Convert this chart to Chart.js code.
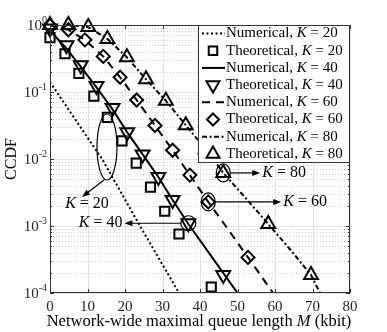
<!DOCTYPE html>
<html>
<head>
<meta charset="utf-8">
<script src="https://cdn.jsdelivr.net/npm/chart.js@4.4.0/dist/chart.umd.min.js"></script>
<style>
html,body{margin:0;padding:0;background:#fff;}
</style>
</head>
<body>
<canvas id="grafico" width="387" height="332"></canvas>
<script>
//Ejes
const ticksX = [0, 10, 20, 30, 40, 50, 60, 70, 80]
const ticksY = [1, 1e-1, 1e-2, 1e-3, 1e-4]
const exponentesY = ['0', '-1', '-2', '-3', '-4']
const valoresK = [20, 40, 60, 80]

//Numerico (lineas)
const numX20 = [0, 7, 13.9, 24, 34.4]
const numY20 = [0.141, 0.037, 0.01, 0.001, 0.0001]
const numX40 = [0, 4, 8.2, 12.4, 16.6, 20.6, 24.7, 28.9, 32.7, 36.9, 43, 50]
const numY40 = [0.83, 0.47, 0.24, 0.117, 0.056, 0.025, 0.0117, 0.0054, 0.00245, 0.00107, 0.000355, 0.0001]
const numX60 = [0, 4.9, 9.3, 14.2, 18.7, 23.1, 28, 32.7, 37.3, 42.2, 47.5, 52.8, 59.5]
const numY60 = [0.98, 0.85, 0.6, 0.34, 0.166, 0.076, 0.0316, 0.0135, 0.00575, 0.00229, 0.00089, 0.00034, 0.0001]
const numX80 = [0, 4.9, 10.2, 15.3, 20.5, 25.6, 30.9, 36.2, 41.5, 46.2, 52.2, 58.2, 64, 69.6, 72]
const numY80 = [1, 1, 0.93, 0.62, 0.33, 0.155, 0.074, 0.032, 0.014, 0.0062, 0.0026, 0.00107, 0.00045, 0.000186, 0.0001]

//Teorico (marcadores)
const teoX20 = [0, 4, 7.7, 11.7, 15.3, 19.2, 23, 26.8, 30.6, 34.4, 43]
const teoY20 = [0.646, 0.372, 0.19, 0.087, 0.0417, 0.0186, 0.0087, 0.0038, 0.00166, 0.00076, 0.000123]
const teoX40 = [0, 4.4, 8.2, 12.4, 16.7, 20.6, 24.7, 28.9, 32.7, 36.9, 46.2]
const teoY40 = [0.89, 0.5, 0.25, 0.123, 0.0575, 0.025, 0.0117, 0.0054, 0.00245, 0.0011, 0.000186]
const teoX60 = [0, 4.9, 9.3, 14.2, 18.7, 23.1, 28, 32.7, 37.3, 42.2, 52.8]
const teoY60 = [0.98, 0.85, 0.6, 0.34, 0.166, 0.076, 0.0316, 0.0135, 0.00575, 0.00229, 0.00034]
const teoX80 = [0, 4.9, 10.2, 15.3, 20.5, 25.6, 30.9, 36.2, 41.5, 46.2, 58.2, 69.6]
const teoY80 = [1, 1, 0.93, 0.62, 0.33, 0.155, 0.074, 0.032, 0.014, 0.0062, 0.00107, 0.000186]

const serif = '"Liberation Serif", "DejaVu Serif", serif'

function puntos(xs, ys){
    return xs.map((x, i) => ({x: x, y: ys[i]}))
}

function linea(label, xs, ys, dash){
    return {label: label, data: puntos(xs, ys), showLine: true, borderColor: '#000',
        borderWidth: 2, borderDash: dash, pointRadius: 0, fill: false}
}

function marcador(label, xs, ys, estilo, radio, rot){
    return {label: label, data: puntos(xs, ys), showLine: false, pointStyle: estilo,
        pointRadius: radio, pointRotation: rot, pointBorderColor: '#000', pointBorderWidth: 2,
        pointBackgroundColor: 'rgba(0,0,0,0)', clip: false}
}

const estilos = [
    {dash: [2, 2.5], punto: 'rect', radio: 6.5, rot: 0},
    {dash: [], punto: 'triangle', radio: 8, rot: 180},
    {dash: [8, 6], punto: 'rectRot', radio: 6.5, rot: 0},
    {dash: [5, 2.5, 2, 2.5], punto: 'triangle', radio: 8, rot: 0}
]

const datasets = [
    linea('Numerical, K = 20', numX20, numY20, estilos[0].dash),
    marcador('Theoretical, K = 20', teoX20, teoY20, 'rect', 6.5, 0),
    linea('Numerical, K = 40', numX40, numY40, estilos[1].dash),
    marcador('Theoretical, K = 40', teoX40, teoY40, 'triangle', 8, 180),
    linea('Numerical, K = 60', numX60, numY60, estilos[2].dash),
    marcador('Theoretical, K = 60', teoX60, teoY60, 'rectRot', 6.5, 0),
    linea('Numerical, K = 80', numX80, numY80, estilos[3].dash),
    marcador('Theoretical, K = 80', teoX80, teoY80, 'triangle', 8, 0)
]

//Anotaciones (posicion en datos)
const anotaciones = [
    {k: 20, x: 15.2, y: 0.0151, rx: 10, ry: 33},
    {k: 40, x: 36.9, y: 0.0011, rx: 7.5, ry: 7.5},
    {k: 60, x: 42.2, y: 0.00229, rx: 7, ry: 9},
    {k: 80, x: 46.2, y: 0.0062, rx: 7, ry: 9}
]

// texto con K en cursiva
function textoMixto(ctx, partes, x, y, size, align){
    let ancho = 0
    partes.forEach(p => {
        ctx.font = (p.it ? 'italic ' : '') + size + 'px ' + serif
        ancho += ctx.measureText(p.t).width
    })
    let px = align === 'right' ? x - ancho : (align === 'center' ? x - ancho / 2 : x)
    ctx.textAlign = 'left'
    ctx.textBaseline = 'middle'
    partes.forEach(p => {
        ctx.font = (p.it ? 'italic ' : '') + size + 'px ' + serif
        ctx.fillText(p.t, px, y)
        px += ctx.measureText(p.t).width
    })
}

function flecha(ctx, x1, y1, x2, y2){
    const ang = Math.atan2(y2 - y1, x2 - x1)
    ctx.beginPath()
    ctx.moveTo(x1, y1)
    ctx.lineTo(x2 - 6 * Math.cos(ang), y2 - 6 * Math.sin(ang))
    ctx.stroke()
    ctx.beginPath()
    ctx.moveTo(x2, y2)
    ctx.lineTo(x2 - 8 * Math.cos(ang) + 3 * Math.sin(ang), y2 - 8 * Math.sin(ang) - 3 * Math.cos(ang))
    ctx.lineTo(x2 - 8 * Math.cos(ang) - 3 * Math.sin(ang), y2 - 8 * Math.sin(ang) + 3 * Math.cos(ang))
    ctx.closePath()
    ctx.fill()
}

const fondo = {
    id: 'fondo',
    beforeDatasetsDraw(chart){
        const ctx = chart.ctx
        const a = chart.chartArea
        const sx = chart.scales.x, sy = chart.scales.y
        ctx.save()
        // rejilla menor (punteada)
        ctx.strokeStyle = '#cfcfcf'
        ctx.lineWidth = 1
        ctx.setLineDash([1, 2])
        for(let d = -4; d < 0; d++){
            for(let m = 2; m <= 9; m++){
                const y = Math.round(sy.getPixelForValue(m * Math.pow(10, d))) + 0.5
                ctx.beginPath(); ctx.moveTo(a.left, y); ctx.lineTo(a.right, y); ctx.stroke()
            }
        }
        // rejilla mayor
        ctx.setLineDash([])
        ctx.strokeStyle = '#e3e3e3'
        ticksX.forEach(v => {
            const x = Math.round(sx.getPixelForValue(v)) + 0.5
            ctx.beginPath(); ctx.moveTo(x, a.top); ctx.lineTo(x, a.bottom); ctx.stroke()
        })
        ticksY.forEach(v => {
            const y = Math.round(sy.getPixelForValue(v)) + 0.5
            ctx.beginPath(); ctx.moveTo(a.left, y); ctx.lineTo(a.right, y); ctx.stroke()
        })
        ctx.restore()
    },
    afterDraw(chart){
        const ctx = chart.ctx
        const a = chart.chartArea
        const sx = chart.scales.x, sy = chart.scales.y
        ctx.save()
        // marco y marcas
        ctx.strokeStyle = '#333'
        ctx.lineWidth = 1
        ctx.strokeRect(a.left + 0.5, a.top + 0.5, a.right - a.left - 1, a.bottom - a.top - 1)
        ticksX.forEach(v => {
            const x = Math.round(sx.getPixelForValue(v)) + 0.5
            ctx.beginPath(); ctx.moveTo(x, a.bottom); ctx.lineTo(x, a.bottom - 4)
            ctx.moveTo(x, a.top); ctx.lineTo(x, a.top + 4); ctx.stroke()
        })
        for(let d = -4; d <= 0; d++){
            for(let m = 1; m <= (d === 0 ? 1 : 9); m++){
                const y = Math.round(sy.getPixelForValue(m * Math.pow(10, d))) + 0.5
                const l = m === 1 ? 4 : 2
                ctx.beginPath(); ctx.moveTo(a.left, y); ctx.lineTo(a.left + l, y)
                ctx.moveTo(a.right, y); ctx.lineTo(a.right - l, y); ctx.stroke()
            }
        }
        // etiquetas eje y con exponente
        ctx.fillStyle = '#262626'
        ticksY.forEach((v, i) => {
            const y = sy.getPixelForValue(v)
            ctx.font = '10px ' + serif
            const we = ctx.measureText(exponentesY[i]).width
            ctx.textAlign = 'left'
            ctx.textBaseline = 'middle'
            ctx.fillText(exponentesY[i], a.left - 3 - we, y - 5)
            ctx.font = '15px ' + serif
            ctx.textAlign = 'right'
            ctx.fillText('10', a.left - 3 - we, y + 1)
        })
        // titulos de ejes
        ctx.fillStyle = '#000'
        textoMixto(ctx, [{t: 'Network-wide maximal queue length '}, {t: 'M', it: true}, {t: ' (kbit)'}],
            (a.left + a.right) / 2 - 1, 322, 16.5, 'center')
        ctx.save()
        ctx.translate(12, (a.top + a.bottom) / 2)
        ctx.rotate(-Math.PI / 2)
        textoMixto(ctx, [{t: 'CCDF'}], 0, 0, 16, 'center')
        ctx.restore()

        // anotaciones
        ctx.strokeStyle = '#000'
        ctx.fillStyle = '#000'
        ctx.lineWidth = 1.2
        anotaciones.forEach(an => {
            const cx = sx.getPixelForValue(an.x), cy = sy.getPixelForValue(an.y)
            ctx.beginPath()
            ctx.ellipse(cx, cy, an.rx, an.ry, 0, 0, Math.PI * 2)
            ctx.stroke()
            const partes = [{t: 'K', it: true}, {t: ' = ' + an.k}]
            if(an.k === 20){
                flecha(ctx, cx - 3, cy + an.ry, cx - 25, cy + 50)
                textoMixto(ctx, partes, cx - 20, cy + 57, 16, 'center')
            } else if(an.k === 40){
                flecha(ctx, cx - an.rx, cy, cx - 64, cy)
                textoMixto(ctx, partes, cx - 66, cy, 16, 'right')
            } else if(an.k === 60){
                flecha(ctx, cx + an.rx, cy, cx + 73, cy)
                textoMixto(ctx, partes, cx + 75, cy, 16, 'left')
            } else {
                flecha(ctx, cx + an.rx, cy, cx + 37, cy)
                textoMixto(ctx, partes, cx + 39, cy, 16, 'left')
            }
        })

        // leyenda
        const lx = 198, ly = a.top, lw = a.right - lx, lh = 138
        ctx.fillStyle = '#fff'
        ctx.fillRect(lx, ly, lw, lh)
        ctx.strokeStyle = '#333'
        ctx.lineWidth = 1
        ctx.strokeRect(lx + 0.5, ly + 0.5, lw - 1, lh - 1)
        datasets.forEach((ds, i) => {
            const y = ly + 8.5 + i * 17.2
            const e = estilos[Math.floor(i / 2)]
            ctx.save()
            ctx.strokeStyle = '#000'
            ctx.lineWidth = 2
            if(i % 2 === 0){
                ctx.setLineDash(e.dash)
                ctx.beginPath(); ctx.moveTo(lx + 4, y); ctx.lineTo(lx + 27, y); ctx.stroke()
            } else {
                ctx.fillStyle = 'rgba(0,0,0,0)'
                Chart.helpers.drawPoint(ctx, {pointStyle: e.punto, radius: e.radio - 0.5, rotation: e.rot, borderWidth: 2},
                    lx + 15, y)
            }
            ctx.restore()
            ctx.fillStyle = '#000'
            const nombre = ds.label.split('K')[0]
            textoMixto(ctx, [{t: nombre}, {t: 'K', it: true}, {t: ' = ' + valoresK[Math.floor(i / 2)]}],
                lx + 28, y, 15, 'left')
        })
        ctx.restore()
    }
}

new Chart(document.getElementById('grafico'), {
    type: 'scatter',
    data: {datasets: datasets},
    options: {
        responsive: false,
        animation: false,
        layout: {padding: {top: 25, right: 37, left: 0, bottom: 0}},
        plugins: {legend: {display: false}, tooltip: {enabled: false}},
        scales: {
            x: {
                type: 'linear', min: 0, max: 80,
                afterBuildTicks: s => { s.ticks = ticksX.map(v => ({value: v})) },
                afterFit: s => { s.height = 39 },
                grid: {display: false, drawTicks: false},
                border: {display: false},
                ticks: {padding: 5, color: '#262626', font: {family: serif, size: 15}, maxRotation: 0}
            },
            y: {
                type: 'logarithmic', min: 1e-4, max: 1,
                afterBuildTicks: s => { s.ticks = ticksY.map(v => ({value: v})) },
                afterFit: s => { s.width = 50 },
                grid: {display: false},
                border: {display: false},
                ticks: {display: false}
            }
        }
    },
    plugins: [fondo]
})
</script>
</body>
</html>
